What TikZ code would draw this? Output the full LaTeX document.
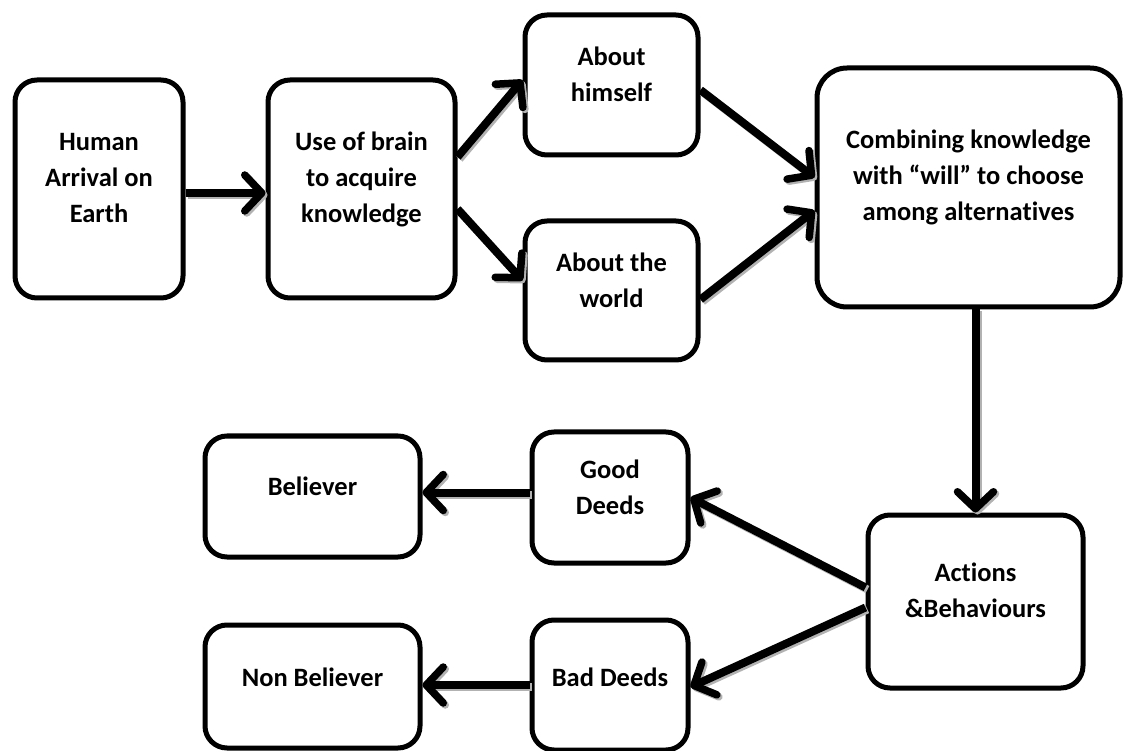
\documentclass[tikz,border=0pt]{standalone}
\usepackage{fontspec}
\setmainfont{Carlito}[Ligatures={NoCommon}]
\usetikzlibrary{arrows.meta,calc}
\begin{document}
\begin{tikzpicture}[x=1pt,y=-1pt,
  box/.style={draw=black, line width=5pt, rounded corners=22pt, fill=white,
    inner sep=0pt},
  txt/.style={align=center, font=\fontsize{26.5}{36}\selectfont\bfseries, inner sep=0pt},
  conn/.style={line width=8pt, draw=black,
    -{Straight Barb[length=17pt,width=36pt,line width=7.5pt,round]}},
  connshadow/.style={conn, draw=black!30,
    transform canvas={shift={(2pt,-2pt)}}}]
\useasboundingbox (0,0) rectangle (1128,751);

% boxes: top row
\node[box, minimum width=168pt, minimum height=218pt] (human) at (99,189) {};
\node[box, minimum width=187pt, minimum height=218pt] (brain) at (361.5,189) {};
\node[box, minimum width=173pt, minimum height=140pt] (himself) at (611.5,85) {};
\node[box, minimum width=173pt, minimum height=139pt] (world) at (611.5,290.5) {};
\node[box, minimum width=303pt, minimum height=239pt, rounded corners=30pt] (comb) at (968.5,187.5) {};
% boxes: bottom rows
\node[box, minimum width=215pt, minimum height=173pt] (actions) at (975.5,601.5) {};
\node[box, minimum width=156pt, minimum height=131pt] (good) at (610,497.5) {};
\node[box, minimum width=156pt, minimum height=130pt] (bad) at (610,685) {};
\node[box, minimum width=215pt, minimum height=121pt] (believer) at (312.5,496.5) {};
\node[box, minimum width=215pt, minimum height=123pt] (nonbel) at (312.5,686.5) {};

% labels
\node[txt] (human-t) at ([yshift=11pt]human.center) {Human\\Arrival on\\Earth};
\node[txt] (brain-t) at ([yshift=10pt]brain.center) {Use of brain\\to acquire\\knowledge};
\node[txt] (himself-t) at ([yshift=11pt]himself.center) {About\\himself};
\node[txt] (world-t) at ([yshift=10pt]world.center) {About the\\world};
\node[txt] (comb-t) at ([yshift=10pt]comb.center) {Combining knowledge\\with “will” to choose\\among alternatives};
\node[txt] (actions-t) at ([yshift=11pt]actions.center) {Actions\\\&Behaviours};
\node[txt] (good-t) at ([yshift=10pt]good.center) {Good\\Deeds};
\node[txt] (bad-t) at ([yshift=8pt]bad.center) {Bad Deeds};
\node[txt] (believer-t) at ([yshift=10pt]believer.center) {Believer};
\node[txt] (nonbel-t) at ([yshift=9pt]nonbel.center) {Non Believer};

% connectors: soft shadow first, then the arrow itself
\foreach \s in {connshadow, conn} {
  \draw[\s] ([yshift=-4pt]human.east) -- ([yshift=-4pt]brain.west);
  \draw[\s] ([yshift=32pt]brain.east) -- ([yshift=5pt]himself.west);
  \draw[\s] ([yshift=-20pt]brain.east) -- ([yshift=10pt]world.west);
  \draw[\s] ([yshift=-5pt]himself.east) -- ([yshift=10pt]comb.west);
  \draw[\s] ([yshift=-9pt]world.east) -- ([yshift=-23pt]comb.west);
  \draw[\s] (actions.north |- comb.south) -- (actions.north);
  \draw[\s] ([yshift=14pt]actions.west) -- (good.east);
  \draw[\s] ([yshift=-6pt]actions.west) -- ([yshift=-2pt]bad.east);
  \draw[\s] ([yshift=5pt]good.west) -- ([yshift=5pt]good.west -| believer.east);
  \draw[\s] (bad.west) -- (bad.west -| nonbel.east);
}
\end{tikzpicture}
\end{document}
